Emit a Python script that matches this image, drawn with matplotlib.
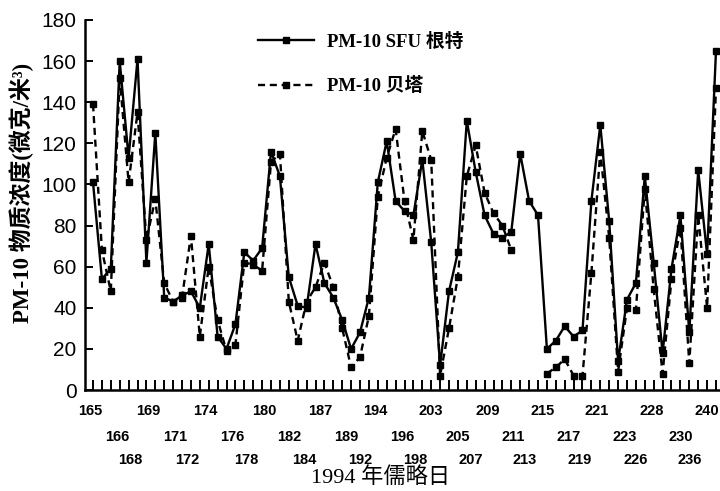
import matplotlib
matplotlib.use("Agg")
import matplotlib.pyplot as plt
import numpy as np

# PM-10 concentration, one value per sample (solid: SFU Ghent, dashed: Beta)
sfu = [101, 54, 59, 160, 113, 161, 62, 125, 45, 43,
       46, 48, 40, 71, 26, 20, 32, 67, 63, 69,
       116, 104, 55, 41, 40, 71, 52, 45, 34, 20,
       28, 45, 101, 121, 92, 87, 85, 112, 72, 12,
       48, 67, 131, 106, 85, 76, 74, 77, 115, 92,
       85, 20, 24, 31, 26, 29, 92, 129, 82, 14,
       44, 52, 104, 62, 18, 59, 85, 28, 107, 66,
       165]
beta = [139, 68, 48, 152, 101, 135, 73, 93, 52, 43,
        45, 75, 26, 60, 34, 19, 22, 62, 61, 58,
        111, 115, 43, 24, 43, 50, 62, 50, 30, 11,
        16, 36, 94, 113, 127, 92, 73, 126, 112, 7,
        30, 55, 104, 119, 96, 86, 80, 68, np.nan, np.nan,
        np.nan, 8, 11, 15, 7, 7, 57, 116, 74, 9,
        40, 39, 98, 49, 8, 54, 79, 13, 85, 40,
        147]

day_labels = ["165", "166", "168", "169", "171", "172", "174", "176", "178",
              "180", "182", "184", "187", "189", "192", "194", "196", "198",
              "203", "205", "207", "209", "211", "213", "215", "217", "219",
              "221", "223", "226", "228", "230", "236", "240"]
# where each day label sits along the sample axis (layout of the original)
label_pos = [-0.3, 2.7, 4.2, 6.2, 9.2, 10.6, 12.6, 15.6, 17.2,
             19.2, 22.1, 23.7, 25.5, 28.4, 30.0, 31.7, 34.7, 36.2,
             37.9, 41.0, 42.4, 44.3, 47.2, 48.5, 50.5, 53.4, 54.7,
             56.6, 59.7, 61.0, 62.8, 66.0, 67.1, 69.0]

y_ticks = [0, 20, 40, 60, 80, 100, 120, 140, 160, 180]

mixed = ["Liberation Serif", "Noto Sans CJK SC", "DejaVu Sans"]

x = np.arange(len(sfu))

fig = plt.figure(figsize=(7.2, 4.91), dpi=100)
ax = fig.add_axes([85 / 720, 1 - 390 / 491, 635 / 720, 370 / 491])

ax.plot(x, sfu, color="black", lw=1.7, marker="s", ms=4.2,
        label="PM-10 SFU 根特")
ax.plot(x, beta, color="black", lw=1.7, ls=(0, (3, 2)), marker="s", ms=4.2,
        label="PM-10 贝塔")

ax.set_xlim(-0.9, 70.45)
ax.set_ylim(0, 180)

for s in ["top", "right"]:
    ax.spines[s].set_visible(False)
ax.spines["left"].set_linewidth(1.8)
ax.spines["bottom"].set_linewidth(1.8)

ax.set_xticks(x)
ax.set_xticklabels([])
ax.tick_params(axis="x", direction="in", length=7, width=1.4)
ax.set_yticks(y_ticks)
ax.set_yticklabels([str(v) for v in y_ticks], fontsize=15,
                   family="Liberation Sans")
ax.tick_params(axis="y", direction="in", length=6, width=1.4, pad=6)

# staggered day labels in three rows
rows_y = [-0.058, -0.126, -0.19]
for k, (lab, pos) in enumerate(zip(day_labels, label_pos)):
    ax.text(pos, rows_y[k % 3], lab, transform=ax.get_xaxis_transform(),
            ha="center", va="center", fontsize=10.5, fontweight="bold",
            family="Liberation Sans")

fig.text(22 / 720, 1 - 193 / 491, "PM-10 物质浓度(微克/米³)", rotation=90,
         ha="center", va="center", fontsize=16.5, fontweight="bold", family=mixed)
fig.text(381 / 720, 1 - 478 / 491, "1994 年儒略日", ha="center", va="center",
         fontsize=16, family=mixed)

leg = ax.legend(loc="upper left", bbox_to_anchor=(258 / 720, 1 - 33 / 491),
                bbox_transform=fig.transFigure, frameon=False,
                handlelength=3.0, handletextpad=0.7, labelspacing=1.4,
                borderpad=0, borderaxespad=0,
                prop={"family": mixed, "size": 13.5, "weight": "bold"})

fig.savefig("out.png", dpi=100)
